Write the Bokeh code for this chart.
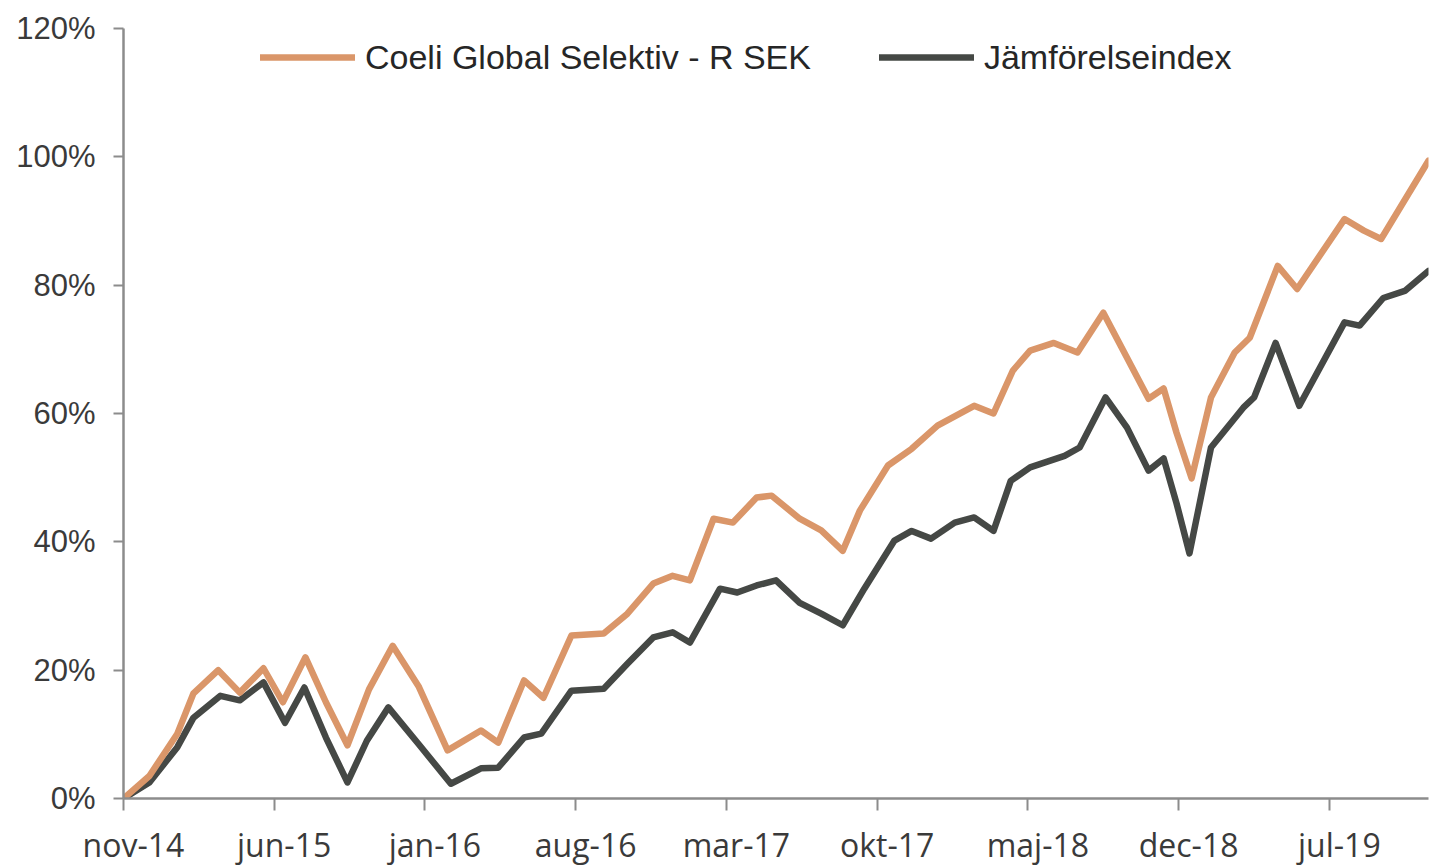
from bokeh.plotting import figure
from bokeh.models import Range1d, FixedTicker, PrintfTickFormatter, Legend, LegendItem, LinearAxis
from bokeh.embed import file_html
from bokeh.resources import INLINE

# x position in months since nov-14, value in percent
fund_months = [0, 1.2, 2.5, 3.25, 4.4, 5.4, 6.5, 7.4, 8.45, 9.4, 10.4, 11.4, 12.5, 13.7, 15.05,
               16.6, 17.4, 18.6, 19.5, 20.8, 22.3, 23.4, 24.6, 25.5, 26.3, 27.4, 28.3, 29.4, 30.1,
               31.4, 32.4, 33.4, 34.2, 35.5, 36.6, 37.8, 39.5, 40.4, 41.3, 42.1, 43.2, 44.3, 45.5,
               46.6, 47.6, 48.3, 48.9, 49.6, 50.5, 51.6, 52.3, 53.6, 54.5, 56.7, 57.6, 58.4, 60.6]
fund_values = [0, 3.5, 10.1, 16.4, 20, 16.5, 20.3, 15, 22, 15, 8.3, 17, 23.8, 17.5, 7.5,
               10.6, 8.7, 18.4, 15.7, 25.4, 25.7, 28.8, 33.5, 34.7, 34, 43.6, 43, 46.9, 47.2,
               43.6, 41.8, 38.6, 44.9, 51.9, 54.5, 58.1, 61.2, 60, 66.7, 69.8, 71, 69.5, 75.7,
               68.7, 62.3, 63.9, 57, 49.9, 62.5, 69.5, 71.8, 83, 79.4, 90.3, 88.5, 87.2, 99.4]

index_months = [0, 1.2, 2.5, 3.25, 4.5, 5.4, 6.5, 7.5, 8.4, 9.4, 10.4, 11.3, 12.3, 13.7, 15.2,
                16.6, 17.4, 18.6, 19.4, 20.8, 22.3, 23.4, 24.6, 25.5, 26.3, 27.7, 28.5, 29.4, 30.3,
                31.4, 32.4, 33.4, 34.4, 35.8, 36.6, 37.5, 38.6, 39.5, 40.4, 41.2, 42.1, 43.7, 44.4,
                45.6, 46.6, 47.6, 48.3, 48.9, 49.5, 50.5, 52.0, 52.5, 53.5, 54.6, 56.7, 57.4, 58.5,
                59.5, 60.6]
index_values = [0, 2.5, 8, 12.6, 16, 15.3, 18.1, 11.8, 17.3, 9.5, 2.5, 9, 14.2, 8.5, 2.3,
                4.7, 4.8, 9.5, 10.1, 16.8, 17.1, 21, 25.1, 25.9, 24.3, 32.7, 32.1, 33.2, 34,
                30.5, 28.8, 27, 32.7, 40.2, 41.7, 40.5, 43, 43.8, 41.7, 49.5, 51.6, 53.4, 54.7,
                62.5, 57.8, 51.1, 53, 46, 38.2, 54.7, 60.9, 62.5, 71, 61.2, 74.2, 73.7, 78,
                79.1, 82.2]

tick_months = [0, 7, 14, 21, 28, 35, 42, 49, 56]
tick_labels = ["nov-14", "jun-15", "jan-16", "aug-16", "mar-17", "okt-17", "maj-18", "dec-18", "jul-19"]
y_ticks = [0, 20, 40, 60, 80, 100, 120]

series_names = ["Coeli Global Selektiv - R SEK", "Jämförelseindex"]
ORANGE = "#DA9669"
DARK = "#454845"
AXIS = "#8C8C8C"
TEXT = "#3A3A3A"
LABEL_SHIFT = 0.46  # labels sit slightly right of their tick marks

p = figure(width=1430, height=868, output_backend="svg", toolbar_location=None,
           x_range=Range1d(0, 60.6), y_range=Range1d(0, 120), x_axis_location=None,
           min_border_left=123, min_border_right=2, min_border_top=28, min_border_bottom=70)
p.outline_line_color = None
p.background_fill_color = "white"
p.border_fill_color = "white"
p.xgrid.visible = False
p.ygrid.visible = False

r_idx = p.line(index_months, index_values, line_color=DARK, line_width=6.5, line_join="round", line_cap="round")
r_fund = p.line(fund_months, fund_values, line_color=ORANGE, line_width=6.5, line_join="round", line_cap="round")

# axis with tick marks
xa = LinearAxis(ticker=FixedTicker(ticks=tick_months))
xa.major_label_overrides = {m: "" for m in tick_months}
xa.major_label_text_font_size = "0px"
xa.major_label_standoff = 0
xa.axis_line_color = AXIS
xa.axis_line_width = 2.5
xa.major_tick_line_color = AXIS
xa.major_tick_line_width = 2
xa.major_tick_out = 12
xa.major_tick_in = 0
xa.minor_tick_line_color = None
p.add_layout(xa, "below")

# axis carrying the month labels
label_pos = [m + LABEL_SHIFT for m in tick_months]
xl = LinearAxis(ticker=FixedTicker(ticks=label_pos))
xl.major_label_overrides = {pos: lab for pos, lab in zip(label_pos, tick_labels)}
xl.axis_line_color = None
xl.major_tick_line_color = None
xl.minor_tick_line_color = None
xl.major_tick_out = 0
xl.major_tick_in = 0
xl.major_label_text_font = "Open Sans"
xl.major_label_text_font_size = "32px"
xl.major_label_text_color = TEXT
xl.major_label_standoff = 12
p.add_layout(xl, "below")

ya = p.yaxis[0]
ya.ticker = FixedTicker(ticks=y_ticks)
ya.formatter = PrintfTickFormatter(format="%d%%")
ya.axis_line_color = AXIS
ya.axis_line_width = 2.5
ya.major_tick_line_color = AXIS
ya.major_tick_line_width = 2
ya.major_tick_out = 10
ya.major_tick_in = 0
ya.minor_tick_line_color = None
ya.major_label_text_font = "Liberation Sans"
ya.major_label_text_font_size = "31px"
ya.major_label_text_color = TEXT
ya.major_label_standoff = 18

legend = Legend(items=[LegendItem(label=series_names[0], renderers=[r_fund]),
                       LegendItem(label=series_names[1], renderers=[r_idx])],
                orientation="horizontal", location=(137, 721))
legend.border_line_color = None
legend.background_fill_alpha = 0
legend.padding = 0
legend.margin = 0
legend.spacing = 68
legend.glyph_width = 95
legend.glyph_height = 40
legend.label_height = 40
legend.label_standoff = 10
legend.label_text_font = "Liberation Sans"
legend.label_text_font_size = "34px"
legend.label_text_color = "#262626"
p.add_layout(legend, "center")

open("out.html", "w").write(file_html(p, INLINE))
